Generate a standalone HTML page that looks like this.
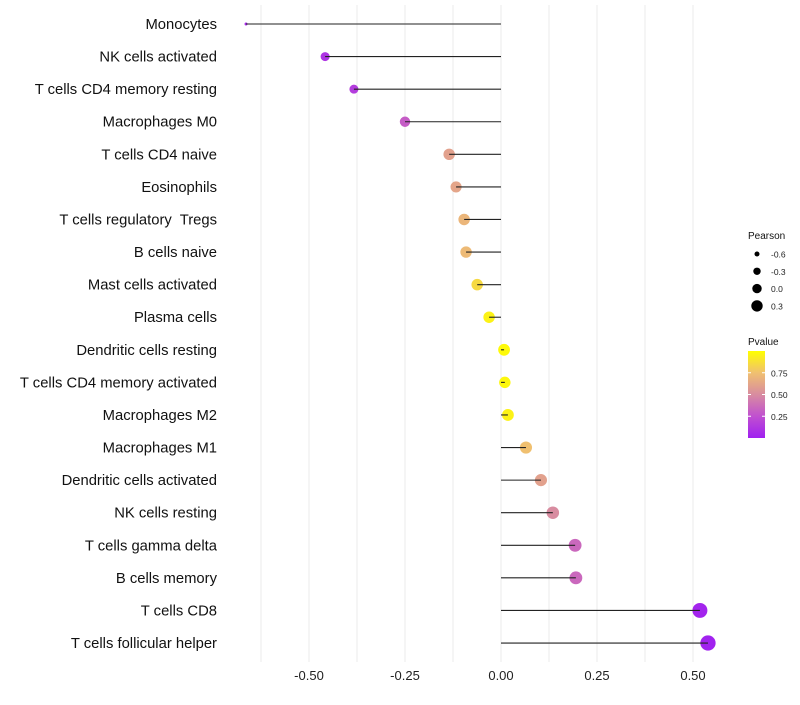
<!DOCTYPE html>
<html><head><meta charset="utf-8"><style>
body{margin:0;background:#fff;font-family:"Liberation Sans",sans-serif}
svg text{font-family:"Liberation Sans",sans-serif;white-space:pre}
</style></head><body>
<svg id="c" width="800" height="700"></svg>
<script>
const categories=["Monocytes","NK cells activated","T cells CD4 memory resting","Macrophages M0","T cells CD4 naive","Eosinophils","T cells regulatory  Tregs","B cells naive","Mast cells activated","Plasma cells","Dendritic cells resting","T cells CD4 memory activated","Macrophages M2","Macrophages M1","Dendritic cells activated","NK cells resting","T cells gamma delta","B cells memory","T cells CD8","T cells follicular helper"];
const values=[-0.664,-0.458,-0.383,-0.25,-0.135,-0.117,-0.096,-0.091,-0.062,-0.031,0.008,0.01,0.018,0.065,0.104,0.135,0.193,0.195,0.518,0.539];
const pvalues=[0.05,0.1,0.15,0.3,0.6,0.62,0.7,0.72,0.85,0.95,0.98,0.97,0.95,0.75,0.6,0.5,0.35,0.35,0.02,0.01];
const sizes=[-0.9,-0.2,-0.2,0,0.15,0.1,0.15,0.15,0.15,0.15,0.2,0.15,0.2,0.25,0.25,0.3,0.35,0.35,0.65,0.7];
const xticks=[-0.5,-0.25,0,0.25,0.5];
const xtickLabels=["-0.50","-0.25","0.00","0.25","0.50"];
const legendSizes=[-0.6,-0.3,0.0,0.3];
const legendP=[0.75,0.5,0.25];
const NS="http://www.w3.org/2000/svg";
const svg=document.getElementById('c');
const X=v=>501+v*384;
const Y=i=>24+i*32.58;
const R=p=>p<-0.6?1.5:5.2+3.5*p;
const stops=[[0,[160,32,240]],[0.25,[192,80,208]],[0.5,[216,140,160]],[0.75,[240,192,112]],[1,[255,255,0]]];
function col(p){for(let k=1;k<stops.length;k++){if(p<=stops[k][0]){const a=stops[k-1],b=stops[k];const t=(p-a[0])/(b[0]-a[0]);return 'rgb('+a[1].map((c,j)=>Math.round(c+(b[1][j]-c)*t)).join(',')+')';}}return 'rgb(255,255,0)';}
function el(t,a,parent){const e=document.createElementNS(NS,t);for(const k in a)e.setAttribute(k,a[k]);(parent||svg).appendChild(e);return e;}
for(let k=-5;k<=4;k++){const g=k*0.125;const l=el('line',{x1:X(g),x2:X(g),y1:5,y2:662,stroke:'#ebebeb','stroke-width':1});

}
xticks.forEach((v,i)=>{const t=el('text',{x:X(v),y:680,'text-anchor':'middle','font-size':13,fill:'#222'});t.textContent=xtickLabels[i];

});
categories.forEach((c,i)=>{
const t=el('text',{x:217,y:Y(i)+5,'text-anchor':'end','font-size':14.8,fill:'#111'});t.textContent=c;


const d=el('circle',{cx:X(values[i]),cy:Y(i),r:R(sizes[i]),fill:col(pvalues[i])});


const l=el('line',{x1:X(0),x2:X(values[i]),y1:Y(i),y2:Y(i),stroke:'#222','stroke-width':1.1});


});
const lt=el('text',{x:748,y:239,'font-size':10,fill:'#111'});lt.textContent='Pearson';


const legR=[2.5,3.7,4.7,5.7];
legendSizes.forEach((s,i)=>{const y=254+i*17.3;
const c=el('circle',{cx:757,cy:y,r:legR[i],fill:'#000'});


const t=el('text',{x:771,y:y+3.5,'font-size':8.5,fill:'#222'});t.textContent=s.toFixed(1);

});
const pt=el('text',{x:748,y:345,'font-size':10,fill:'#111'});pt.textContent='Pvalue';


const defs=el('defs',{});const lg=el('linearGradient',{id:'g',x1:0,y1:1,x2:0,y2:0},defs);
stops.forEach(s=>el('stop',{offset:s[0],'stop-color':col(s[0])},lg));
const bar=el('rect',{x:748,y:351,width:17,height:87,fill:'url(#g)'});


legendP.forEach(p=>{const y=438-p*87;
el('line',{x1:748,x2:751,y1:y,y2:y,stroke:'#fff'});el('line',{x1:762,x2:765,y1:y,y2:y,stroke:'#fff'});
const t=el('text',{x:771,y:y+3.5,'font-size':8.5,fill:'#222'});t.textContent=p.toFixed(2);

});
</script>
</body></html>
